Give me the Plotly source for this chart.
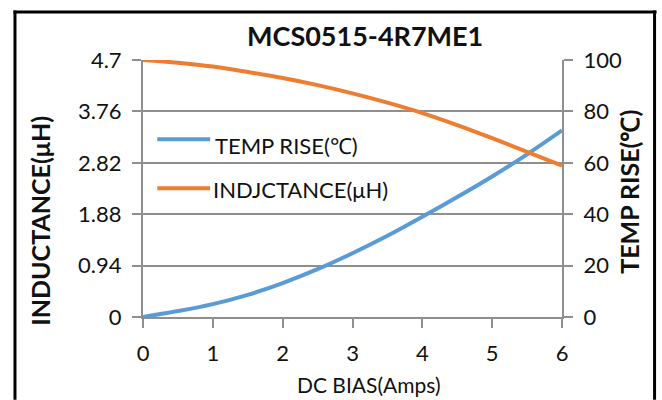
import plotly.graph_objects as go

# ---- data ----
dc_bias = [0, 0.5, 1, 1.5, 2, 2.5, 3, 3.5, 4, 4.5, 5, 5.5, 6]
temp_rise = [0, 2.3, 5, 8.6, 13.2, 18.6, 24.8, 31.6, 39, 46.7, 54.7, 63.3, 72.6]
inductance = [4.70, 4.65, 4.58, 4.48, 4.37, 4.24, 4.09, 3.92, 3.73, 3.51, 3.27, 3.02, 2.77]

x_ticks = [0, 1, 2, 3, 4, 5, 6]
ind_ticks = [0, 0.94, 1.88, 2.82, 3.76, 4.7]
ind_ticktext = ["0", "0.94", "1.88", "2.82", "3.76", "4.7"]
temp_ticks = [0, 20, 40, 60, 80, 100]

title_text = "MCS0515-4R7ME1"
x_title = "DC BIAS(Amps)"
y_left_title = "INDUCTANCE(\u03bcH)"
y_right_title = "TEMP RISE(\u2103)"
name_temp = "TEMP RISE(\u2103)"
name_ind = "INDJCTANCE(\u03bcH)"

BLUE = "#5B9BD5"
ORANGE = "#ED7D31"
GRID = "#8f8f8f"
FONT = "Lato"
TXT = "#111111"

W, H = 662, 400
L, R = 142.7, 562.3
T, B = 59.5, 317.0


def px(xp):
    return (xp - L) / (R - L)


def py(yp):
    return (B - yp) / (B - T)


fig = go.Figure()
fig.add_trace(go.Scatter(x=dc_bias, y=temp_rise, name=name_temp, mode="lines",
                         line=dict(color=BLUE, width=4, shape="spline"), yaxis="y"))
fig.add_trace(go.Scatter(x=dc_bias, y=inductance, name=name_ind, mode="lines",
                         line=dict(color=ORANGE, width=4, shape="spline"), yaxis="y2"))

tickfont = dict(family=FONT, size=22, color=TXT)

fig.update_layout(
    width=W, height=H,
    margin=dict(l=L, r=W - R, t=T, b=H - B, pad=0),
    paper_bgcolor="white", plot_bgcolor="white",
    showlegend=False,
    font=dict(family=FONT, color=TXT),
    xaxis=dict(range=[0, 6], tickvals=x_ticks, showgrid=False, zeroline=False,
               showline=True, linecolor=GRID, linewidth=2,
               ticks="outside", ticklen=9, tickwidth=2, tickcolor=GRID,
               tickfont=tickfont, ticklabelstandoff=7),
    yaxis=dict(range=[0, 100], tickvals=temp_ticks, side="right", showgrid=True,
               gridcolor=GRID, gridwidth=2, zeroline=False,
               showline=True, linecolor=GRID, linewidth=2,
               ticks="outside", ticklen=9, tickwidth=2, tickcolor=GRID,
               tickfont=tickfont, ticklabelstandoff=6),
    yaxis2=dict(range=[0, 4.7], tickvals=ind_ticks, ticktext=ind_ticktext,
                side="left", overlaying="y", showgrid=False, zeroline=False,
                showline=True, linecolor=GRID, linewidth=2,
                ticks="outside", ticklen=9, tickwidth=2, tickcolor=GRID,
                tickfont=tickfont, ticklabelstandoff=6),
)

# outer frame (top, left, right edges) as filled bars
def bar(x0, x1, y0, y1):
    fig.add_shape(type="rect", xref="paper", yref="paper",
                  x0=px(x0), x1=px(x1), y0=py(y1), y1=py(y0),
                  fillcolor="black", line=dict(width=0), layer="above")

bar(13, 657, 10, 13)
bar(13, 16, 10, 400)
bar(653.5, 656.5, 10, 400)

# legend (manual)
fig.add_shape(type="line", xref="paper", yref="paper",
              x0=px(157), x1=px(210), y0=py(139), y1=py(139),
              line=dict(color=BLUE, width=4))
fig.add_shape(type="line", xref="paper", yref="paper",
              x0=px(157), x1=px(210), y0=py(188), y1=py(188),
              line=dict(color=ORANGE, width=4))

annotations = [
    dict(text=name_temp, x=px(213), y=py(145), xanchor="left", yanchor="middle",
         font=dict(family=FONT, size=22, color=TXT)),
    dict(text=name_ind, x=px(211), y=py(189), xanchor="left", yanchor="middle",
         font=dict(family=FONT, size=22, color=TXT)),
    dict(text="<b>" + title_text + "</b>", x=px(365), y=py(35), xanchor="center", yanchor="middle",
         font=dict(family=FONT, size=27, color=TXT)),
    dict(text=x_title, x=px(369), y=py(385), xanchor="center", yanchor="middle",
         font=dict(family=FONT, size=21, color=TXT)),
    dict(text="<b>" + y_left_title + "</b>", x=px(40), y=py(220), xanchor="center", yanchor="middle",
         textangle=-90, font=dict(family=FONT, size=25, color=TXT)),
    dict(text="<b>" + y_right_title + "</b>", x=px(630), y=py(192), xanchor="center", yanchor="middle",
         textangle=-90, font=dict(family=FONT, size=25, color=TXT)),
]
for a in annotations:
    a.update(xref="paper", yref="paper", showarrow=False)
fig.update_layout(annotations=annotations)

fig.write_html("out.html", config={"displayModeBar": False},
               post_script="document.documentElement.style.margin='0px';document.body.style.margin='0px';document.body.style.padding='0px';window.scrollTo(0,0);")
